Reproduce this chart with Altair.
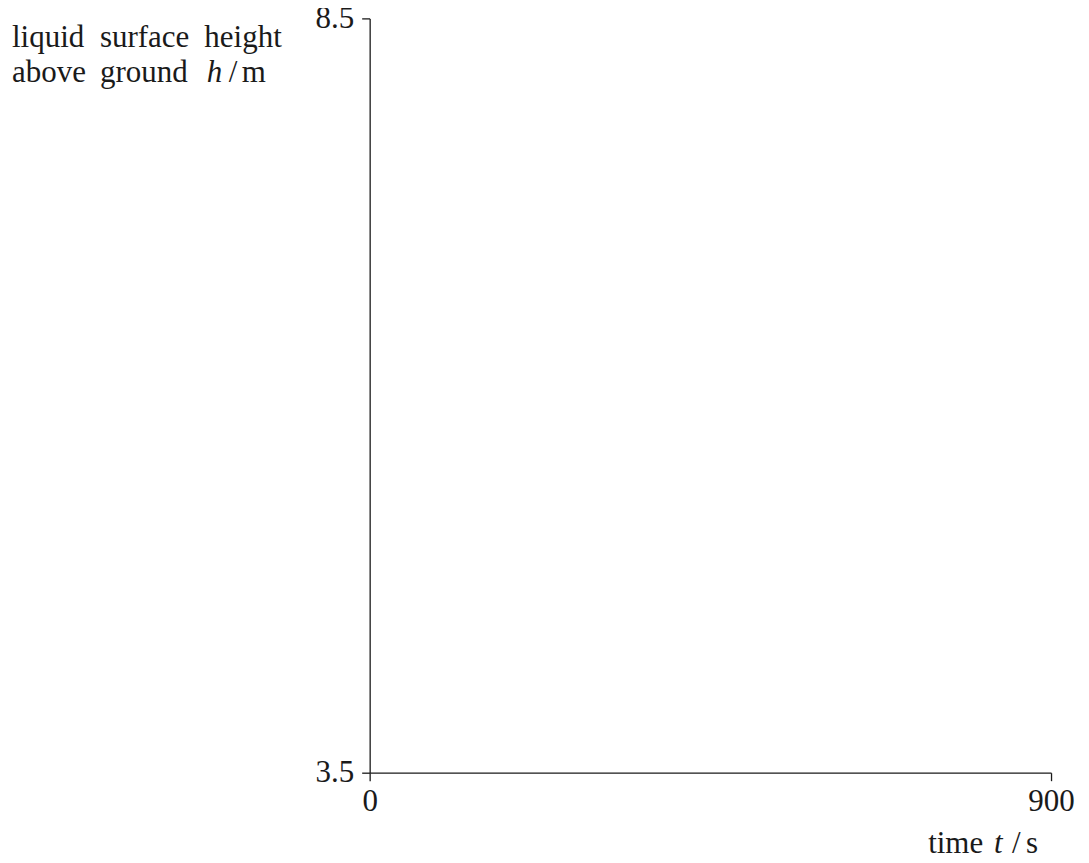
import altair as alt
import pandas as pd

# Axis ranges / tick labels (empty axes)
x_ticks = [0, 900]
y_ticks = [3.5, 8.5]

FONT = "Liberation Serif"
FS = 31
INK = "#1a1a1a"

# Plot-area origin on the page is (370, 18); text pieces positioned relative to it
OX, OY = 370, 18

base_df = pd.DataFrame({"t": x_ticks, "h": y_ticks})

axes = alt.Chart(base_df).mark_point(opacity=0).encode(
    x=alt.X("t:Q", scale=alt.Scale(domain=[x_ticks[0], x_ticks[-1]], nice=False, zero=False),
            axis=alt.Axis(values=x_ticks, title=None, grid=False, tickSize=8,
                          labelPadding=6, labelFontSize=FS, labelFont=FONT,
                          labelColor=INK, domainColor=INK, tickColor=INK,
                          domainWidth=1.3, tickWidth=1.3, labelFlush=False)),
    y=alt.Y("h:Q", scale=alt.Scale(domain=[y_ticks[0], y_ticks[-1]], nice=False, zero=False),
            axis=alt.Axis(values=y_ticks, title=None, grid=False, tickSize=8,
                          labelPadding=8, labelFontSize=FS, labelFont=FONT,
                          labelColor=INK, domainColor=INK, tickColor=INK,
                          domainWidth=1.3, tickWidth=1.3, labelFlush=False,
                          format=".1f")),
)

# title pieces: (text, page x, page baseline y, align, italic)
pieces = [
    ("liquid", 12, 47, "left", False),
    ("surface", 100, 47, "left", False),
    ("height", 282, 47, "right", False),
    ("above", 12, 82, "left", False),
    ("ground", 100, 82, "left", False),
    ("h", 207, 82, "left", True),
    ("/", 229, 82, "left", False),
    ("m", 242, 82, "left", False),
    ("time", 929, 853, "left", False),
    ("t", 995, 853, "left", True),
    ("/", 1013, 853, "left", False),
    ("s", 1027, 853, "left", False),
]

layers = [axes]
for txt, px, py, al, it in pieces:
    layers.append(
        alt.Chart(alt.Data(values=[{}])).mark_text(
            text=txt, align=al, baseline="alphabetic", font=FONT, fontSize=FS,
            fontStyle="italic" if it else "normal", color=INK,
        ).encode(x=alt.value(px - OX), y=alt.value(py - OY))
    )

chart = alt.layer(*layers).properties(
    width=682, height=755,
    background="white",
    autosize=alt.AutoSizeParams(type="none"),
    padding={"left": 362, "top": 10, "right": 30, "bottom": 95},
).configure_view(strokeWidth=0, stroke=None)

chart.save("out.html", embed_options={"renderer": "svg", "actions": False})
